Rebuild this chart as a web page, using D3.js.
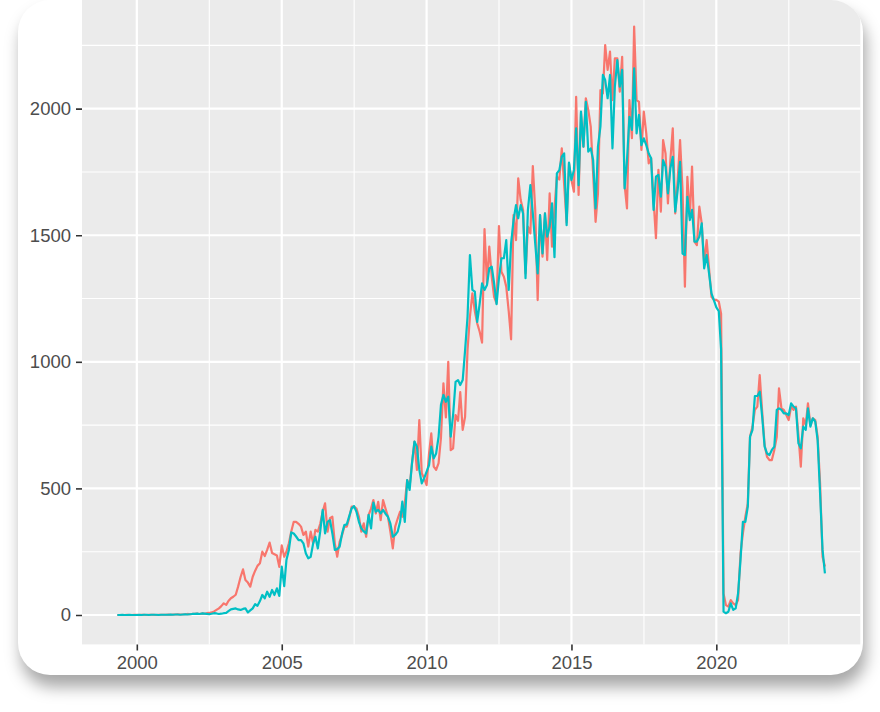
<!DOCTYPE html>
<html><head><meta charset="utf-8">
<script src="https://cdn.jsdelivr.net/npm/d3@7"></script>
<style>
html,body{margin:0;padding:0;background:#fff;width:880px;height:712px;overflow:hidden;}
#card{position:absolute;left:18px;top:0px;width:845px;height:675px;border-radius:32px;background:#fff;overflow:hidden;box-shadow:3px 12px 16px rgba(0,0,0,0.35);}
#card svg{position:absolute;left:-18px;top:0;}
</style>
</head><body>
<div id="card"></div>
<script>
// ---- data (monthly, May 1999 .. Oct 2023) ----
const startMonth = [1999, 5];
const endMonth = [2023, 10];
const redValues = [
 0,0,0,0,1,0,0,1,                                   // 1999 (May-Dec)
 1,0,1,1,0,1,1,1,0,1,1,1,                           // 2000
 1,2,1,2,2,3,2,2,3,4,3,4,                           // 2001
 4,5,4,6,5,7,8,10,14,20,26,35,                      // 2002
 46,40,55,66,72,80,112,150,180,138,128,112,         // 2003
 151,175,194,204,250,233,257,286,245,240,235,190,   // 2004
 275,230,250,283,330,368,368,360,349,316,329,270,   // 2005
 329,283,336,329,360,408,441,329,382,388,283,230,   // 2006
 290,316,349,349,382,428,428,420,388,329,362,309,   // 2007
 395,420,454,401,447,375,454,420,388,329,263,349,   // 2008
 380,408,388,441,533,507,600,685,573,770,560,540,   // 2009
 513,638,717,586,573,600,700,915,780,1000,651,658,  // 2010
 790,767,880,731,783,1047,1178,1270,1200,1152,1119,1076, // 2011
 1524,1310,1455,1336,1257,1231,1536,1356,1336,1297,1200,1089, // 2012
 1580,1481,1725,1639,1600,1349,1534,1507,1773,1600,1244,1580, // 2013
 1415,1586,1402,1665,1455,1606,1731,1720,1843,1700,1550,1784, // 2014
 1718,1672,2047,1659,1981,1850,2041,1995,1929,1744,1553,1665, // 2015
 2073,2060,2251,2153,2225,2034,2199,2199,2067,2205,1698,1606, // 2016
 2034,1883,2324,2034,2027,1837,1988,1902,1784,1804,1639,1488, // 2017
 1758,1593,1876,1823,1626,1797,1922,1586,1718,1876,1679,1297, // 2018
 1731,1573,1771,1475,1461,1613,1547,1389,1481,1369,1257,1245, // 2019
 1245,1238,1190,85,39,33,59,46,39,59,243,322,       // 2020
 388,441,704,744,810,823,948,803,671,625,612,612,   // 2021
 652,704,895,816,810,790,770,823,810,823,711,586,   // 2022
 777,750,836,750,777,770,704,520,230,191            // 2023 (Jan-Oct)
];
const cyanValues = [
 0,0,1,0,0,1,0,0,                                   // 1999
 0,1,0,1,1,0,1,1,1,0,1,1,                           // 2000
 1,1,2,1,2,2,1,2,3,2,3,4,                           // 2001
 4,5,4,6,5,4,3,5,7,6,4,5,                           // 2002
 7,8,15,22,24,26,22,20,24,26,10,18,                 // 2003
 26,43,36,55,79,66,92,72,99,79,105,75,              // 2004
 191,114,217,257,326,322,310,296,296,283,243,224,   // 2005
 230,283,309,263,330,415,322,368,375,322,257,260,   // 2006
 270,322,355,358,390,421,430,408,368,342,330,322,   // 2007
 395,342,444,408,415,401,415,400,388,362,309,316,   // 2008
 329,368,448,368,533,494,600,685,665,573,520,540,   // 2009
 566,592,665,619,638,704,830,869,842,862,704,790,   // 2010
 921,928,908,928,1045,1178,1422,1284,1277,1158,1230,1310, // 2011
 1284,1303,1369,1376,1310,1228,1330,1409,1409,1481,1284,1468, // 2012
 1560,1619,1567,1619,1586,1330,1600,1698,1586,1468,1349,1580, // 2013
 1428,1586,1494,1534,1626,1413,1744,1757,1810,1823,1540,1787, // 2014
 1718,1758,1922,1698,1988,1850,2027,1830,1843,1797,1606,1850, // 2015
 1929,2133,2113,2041,2133,1843,2087,2192,2087,2153,1685,1797, // 2016
 1968,1916,2159,1902,1975,1856,1883,1856,1823,1804,1600,1731, // 2017
 1738,1652,1797,1771,1665,1764,1810,1593,1679,1790,1428,1422, // 2018
 1652,1560,1600,1475,1475,1494,1547,1369,1422,1350,1270,1244, // 2019
 1215,1200,1050,13,7,13,46,20,26,85,217,368,        // 2020
 368,428,704,731,865,865,882,783,665,638,632,652,   // 2021
 665,810,816,810,796,796,790,836,823,816,678,658,   // 2022
 744,731,816,744,777,764,691,480,257,164            // 2023
];
const yTickValues = [0, 500, 1000, 1500, 2000];
const yMinorValues = [250, 750, 1250, 1750, 2250];
const xTickYears = [2000, 2005, 2010, 2015, 2020];
const xMinorYears = [2002.5, 2007.5, 2012.5, 2017.5, 2022.5];
const seriesColors = ["#F8766D", "#00BFC4"];

// ---- build ----
const dates = d3.utcMonth.range(Date.UTC(startMonth[0], startMonth[1]-1, 1), Date.UTC(endMonth[0], endMonth[1], 1));
const series = [redValues, cyanValues].map((vals, i) => ({color: seriesColors[i], pts: dates.map((d, j) => ({d, v: vals[j]}))}));

const W = 880, H = 712;
const panel = {left: 82, right: 860.3, top: -2.8, bottom: 644.4};
const d0 = +dates[0], d1 = +dates[dates.length-1];
const xPad = (d1 - d0) * 0.05;
const x = d3.scaleUtc().domain([new Date(d0 - xPad), new Date(d1 + xPad)]).range([panel.left, panel.right]);
const vmax = d3.max([...redValues, ...cyanValues]);
const y = d3.scaleLinear().domain([-0.05 * vmax, vmax * 1.05]).range([panel.bottom, panel.top]);
const yearDate = yr => new Date(Date.UTC(Math.floor(yr), 0, 1) + (yr % 1) * 365.25 * 864e5);

const svg = d3.select("#card").append("svg").attr("width", W).attr("height", H);
svg.append("rect").attr("x", panel.left).attr("y", panel.top)
  .attr("width", panel.right - panel.left).attr("height", panel.bottom - panel.top).attr("fill", "#EBEBEB");

const grid = svg.append("g");
yMinorValues.forEach(v => grid.append("line").attr("x1", panel.left).attr("x2", panel.right)
  .attr("y1", y(v)).attr("y2", y(v)).attr("stroke", "#fff").attr("stroke-width", 1.1));
xMinorYears.forEach(yr => grid.append("line").attr("y1", panel.top).attr("y2", panel.bottom)
  .attr("x1", x(yearDate(yr))).attr("x2", x(yearDate(yr))).attr("stroke", "#fff").attr("stroke-width", 1.1));
yTickValues.forEach(v => grid.append("line").attr("x1", panel.left).attr("x2", panel.right)
  .attr("y1", y(v)).attr("y2", y(v)).attr("stroke", "#fff").attr("stroke-width", 2.2));
xTickYears.forEach(yr => grid.append("line").attr("y1", panel.top).attr("y2", panel.bottom)
  .attr("x1", x(yearDate(yr))).attr("x2", x(yearDate(yr))).attr("stroke", "#fff").attr("stroke-width", 2.2));

const line = d3.line().x(p => x(p.d)).y(p => y(p.v));
series.forEach(s => svg.append("path").datum(s.pts).attr("d", line)
  .attr("fill", "none").attr("stroke", s.color).attr("stroke-width", 2.2).attr("stroke-linejoin", "round"));

const font = "'Liberation Sans', Arial, Helvetica, sans-serif";
const yAxis = svg.append("g").attr("transform", `translate(${panel.left},0)`)
  .call(d3.axisLeft(y).tickValues(yTickValues).tickSize(6).tickPadding(5).tickFormat(d3.format("d")));
const xAxis = svg.append("g").attr("transform", `translate(0,${panel.bottom})`)
  .call(d3.axisBottom(x).tickValues(xTickYears.map(yearDate)).tickSize(6).tickPadding(5).tickFormat(d3.utcFormat("%Y")));
[yAxis, xAxis].forEach(a => {
  a.select(".domain").remove();
  a.selectAll(".tick line").attr("stroke", "#333333").attr("stroke-width", 1.6);
  a.selectAll(".tick text").attr("fill", "#4D4D4D").style("font-family", font).style("font-size", "18.5px");
});
</script>
</body></html>
